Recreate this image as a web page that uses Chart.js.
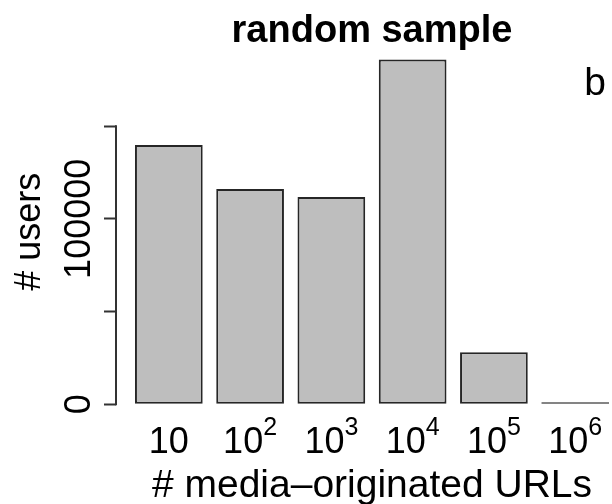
<!DOCTYPE html>
<html>
<head>
<meta charset="utf-8">
<script src="https://cdn.jsdelivr.net/npm/chart.js@4.4.1/dist/chart.umd.min.js"></script>
<style>
  html, body { margin: 0; padding: 0; background: #fff; overflow: hidden; }
  #wrap { width: 612px; height: 504px; overflow: hidden; }
</style>
</head>
<body>
<div id="wrap"><canvas id="usersChart" width="640" height="504"></canvas></div>
<script>
// users per bin of media-originated URL counts
const urlBins = ['10', '10^2', '10^3', '10^4', '10^5', '10^6'];
const userCounts = [139800, 116100, 111800, 186000, 28000, 1000];
const yTicks = [0, 50000, 100000, 150000];
const yTickLabels = ['0', '', '100000', ''];

const FONT = "'Liberation Sans', Arial, Helvetica, sans-serif";
Chart.defaults.font.family = FONT;
Chart.defaults.color = '#000';

// barplot geometry: bars of width 1 separated by 0.2
const barCenter = i => 0.7 + 1.2 * i;

// y axis line only over the tick range, superscript tick labels, panel letter
const axisDecor = {
  id: 'axisDecor',
  afterDraw(chart) {
    const { ctx, chartArea, scales: { x, y } } = chart;
    ctx.save();
    ctx.strokeStyle = '#333';
    ctx.lineWidth = 2;
    ctx.beginPath();
    ctx.moveTo(chartArea.left, y.getPixelForValue(yTicks[0]) + 1);
    ctx.lineTo(chartArea.left, y.getPixelForValue(yTicks[yTicks.length - 1]) - 1);
    ctx.stroke();

    const baseFont = '36px ' + FONT;
    const expFont = '25px ' + FONT;
    ctx.fillStyle = '#000';
    ctx.textAlign = 'left';
    ctx.textBaseline = 'alphabetic';
    urlBins.forEach((label, i) => {
      const [base, exp] = label.split('^');
      ctx.font = baseFont;
      const bw = ctx.measureText(base).width;
      ctx.font = expFont;
      const ew = exp ? ctx.measureText(exp).width : 0;
      const left = x.getPixelForValue(barCenter(i)) - (bw + ew) / 2;
      ctx.font = baseFont;
      ctx.fillText(base, left, chartArea.bottom + 35);
      if (exp) {
        ctx.font = expFont;
        ctx.fillText(exp, left + bw, chartArea.bottom + 17);
      }
    });

    ctx.font = '39px ' + FONT;
    ctx.textAlign = 'center';
    ctx.fillText('b', chartArea.right - 33, chartArea.top + 49);
    ctx.restore();
  }
};

new Chart(document.getElementById('usersChart'), {
  type: 'bar',
  data: {
    datasets: [{
      data: userCounts.map((v, i) => ({ x: barCenter(i), y: v })),
      backgroundColor: '#bebebe',
      borderColor: '#262626',
      borderWidth: 2,
      borderSkipped: false,
      barPercentage: 1 / 1.2,
      categoryPercentage: 1
    }]
  },
  options: {
    responsive: false,
    animation: false,
    layout: { padding: { left: 0, right: 12, top: 0, bottom: 0 } },
    plugins: {
      legend: { display: false },
      tooltip: { enabled: false },
      title: {
        display: true,
        text: 'random sample',
        fullSize: false,
        color: '#000',
        font: { size: 38, weight: 'bold', lineHeight: 1.2 },
        padding: { top: 9, bottom: -9 }
      }
    },
    scales: {
      x: {
        type: 'linear',
        offset: false,
        min: -0.08,
        max: 7.48,
        afterBuildTicks: s => { s.ticks = urlBins.map((b, i) => ({ value: barCenter(i) })); },
        afterFit: s => { s.height = 86; },
        grid: { display: false, offset: false },
        border: { display: false },
        ticks: { display: false },
        title: {
          display: true,
          text: '# media–originated URLs',
          font: { size: 39 },
          padding: { top: 0, bottom: -6 }
        }
      },
      y: {
        min: -7440,
        max: 193440,
        afterBuildTicks: s => { s.ticks = yTicks.map(v => ({ value: v })); },
        afterFit: s => { s.width = 116; },
        grid: { drawOnChartArea: false, tickLength: 12, tickColor: '#333', tickWidth: 2 },
        border: { display: false },
        ticks: {
          autoSkip: false,
          minRotation: 90,
          maxRotation: 90,
          crossAlign: 'center',
          padding: -36,
          font: { size: 36 },
          callback: (v, i) => yTickLabels[i]
        },
        title: {
          display: true,
          text: '# users',
          font: { size: 36 },
          padding: { top: 8 }
        }
      }
    }
  },
  plugins: [axisDecor]
});
</script>
</body>
</html>
